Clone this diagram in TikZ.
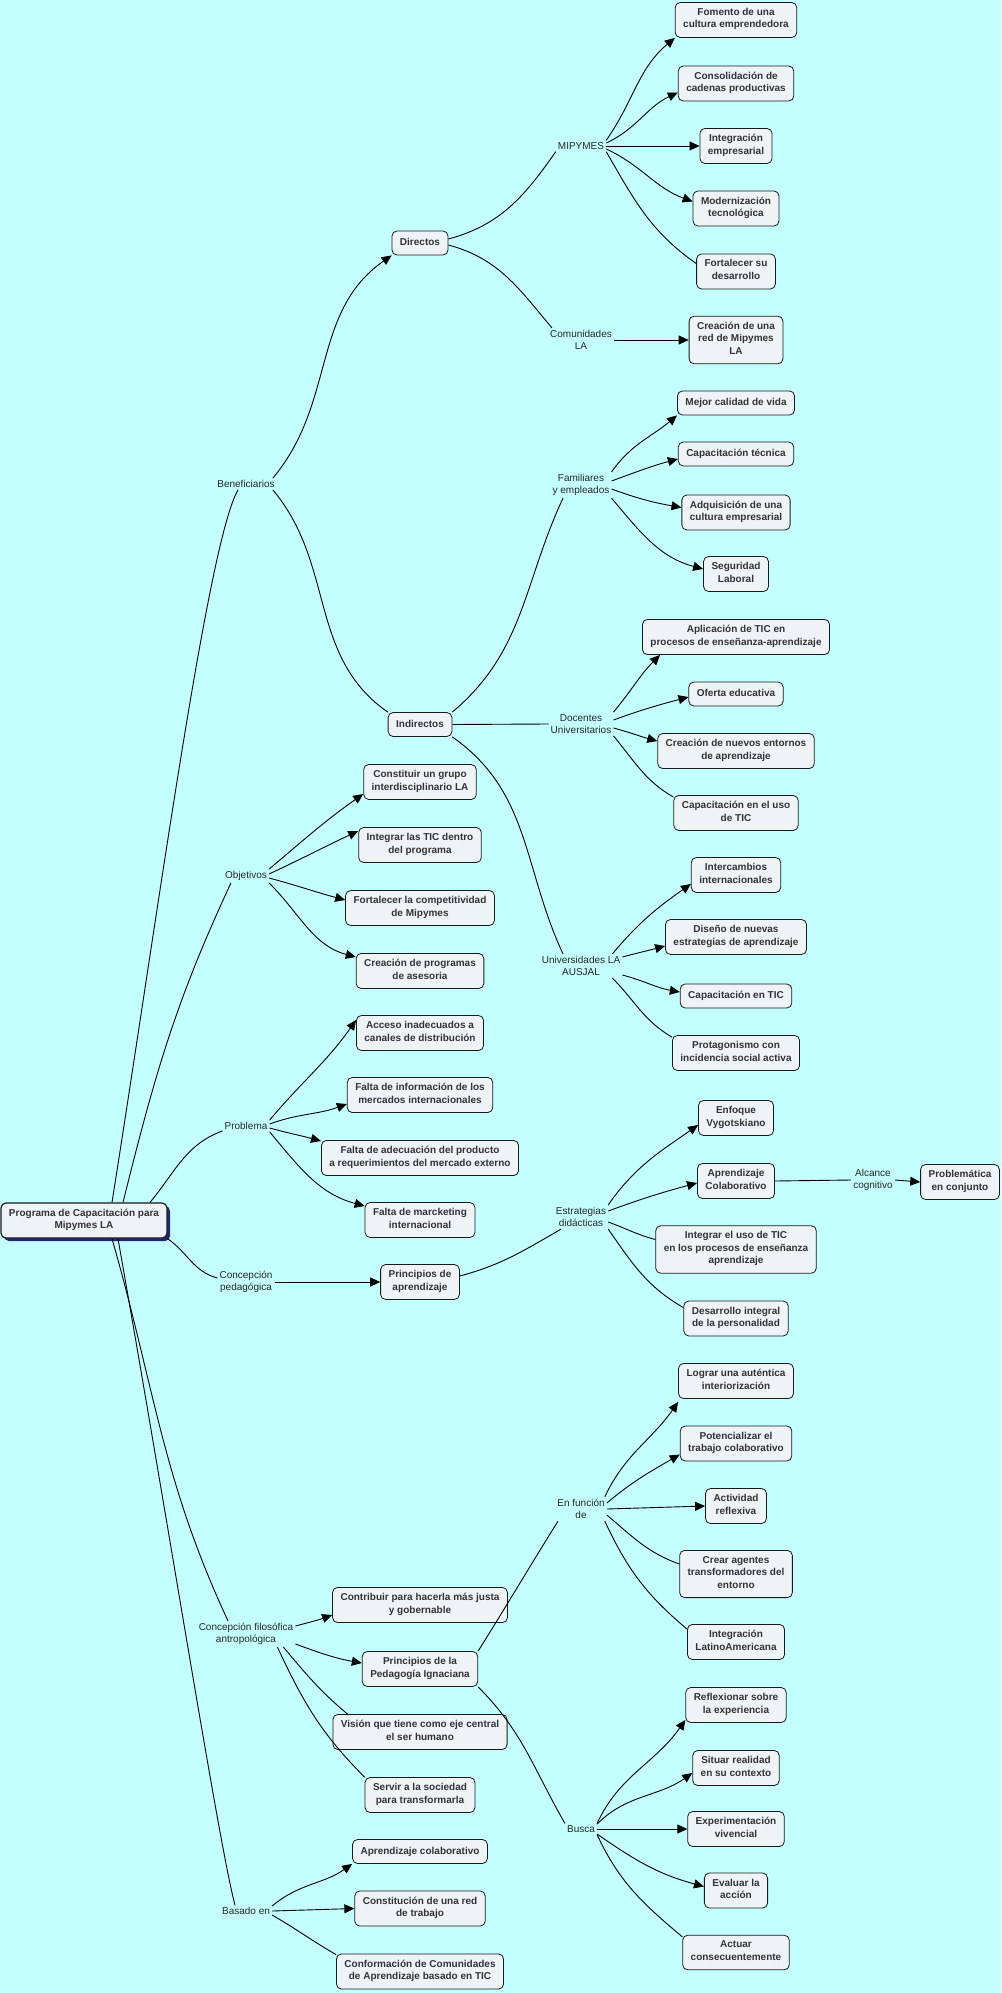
\documentclass[tikz,border=0pt]{standalone}
\usepackage{fontspec}
\setmainfont{Liberation Sans}
\usetikzlibrary{arrows.meta,shadows}

\definecolor{fondo}{RGB}{196,255,255}
\definecolor{caja}{RGB}{238,243,245}
\definecolor{texto}{RGB}{51,51,51}
\definecolor{sombra}{RGB}{36,36,122}

\tikzset{
  concepto/.style={draw=black!90, fill=caja, rounded corners=5pt, line width=0.8pt,
    text=texto, font=\bfseries\fontsize{10}{12.5}\selectfont, align=center,
    inner xsep=8pt, inner ysep=5.75pt,
    execute at begin node=\strut, execute at end node=\strut},
  enlace/.style={text=black!85, font=\fontsize{10}{12.5}\selectfont, align=center, inner sep=2pt},
  linea/.style={line width=0.9pt, draw=black},
  flecha/.style={linea, -{Triangle[length=10pt,width=9pt]}},
}

\begin{document}
\begin{tikzpicture}[x=1pt, y=1pt]

 \fill[fondo] (0,0) rectangle (1001,-1993);
 \useasboundingbox (0,0) rectangle (1001,-1993);

 %root
 \node[concepto, line width=1.2pt, drop shadow={shadow xshift=3pt, shadow yshift=-3pt, fill=sombra, opacity=1}]
   (raiz) at (84,-1220.5) {Programa de Capacitación para\\Mipymes LA};

 %level 1 (links)
 \foreach \nom/\yy/\txt in {benef/484/Beneficiarios, obj/876/Objetivos, prob/1126/Problema,
     cped/1282/{Concepción\\pedagógica}, cfil/1634/{Concepción filosófica\\antropológica},
     bas/1911/{Basado en}} {
   \node[enlace] (\nom) at (246,-\yy) {\txt};
 }

 %level 2 (concepts)
 \foreach \nom/\yy/\txt in {dir/243/Directos, ind/724.5/Indirectos,
     cons/782/{Constituir un grupo\\interdisciplinario LA},
     itic/845/{Integrar las TIC dentro\\del programa},
     fcom/908/{Fortalecer la competitividad\\de Mipymes},
     cprog/971/{Creación de programas\\de asesoria},
     acc/1033/{Acceso inadecuados a\\canales de distribución},
     finf/1095/{Falta de información de los\\mercados internacionales},
     fade/1158/{Falta de adecuación del producto\\a requerimientos del mercado externo},
     mkt/1220/{Falta de marcketing\\internacional},
     papr/1282/{Principios de\\aprendizaje},
     contr/1605/{Contribuir para hacerla más justa\\y gobernable},
     pign/1669/{Principios de la\\Pedagogía Ignaciana},
     vis/1732/{Visión que tiene como eje central\\el ser humano},
     serv/1795/{Servir a la sociedad\\para transformarla},
     apcol/1851.5/{Aprendizaje colaborativo},
     cred2/1908.5/{Constitución de una red\\de trabajo},
     conf/1971.5/{Conformación de Comunidades\\de Aprendizaje basado en TIC}} {
   \node[concepto] (\nom) at (420,-\yy) {\txt};
 }

 %level 3 (links)
 \foreach \nom/\yy/\txt in {mip/146/MIPYMES, com/340/{Comunidades\\LA},
     fam/485/{Familiares\\y empleados}, doc/724/{Docentes\\Universitarios},
     uni/966/{Universidades LA\\AUSJAL}, est/1217/{Estrategias\\didácticas},
     efun/1509/{En función\\de}, busca/1829/Busca} {
   \node[enlace] (\nom) at (581,-\yy) {\txt};
 }

 %level 4 (concepts)
 \foreach \nom/\yy/\txt in {fom/20/{Fomento de una\\cultura emprendedora},
     con/83.5/{Consolidación de\\cadenas productivas},
     int/146/{Integración\\empresarial},
     mod/208.5/{Modernización\\tecnológica},
     fsd/271.5/{Fortalecer su\\desarrollo},
     cred/340/{Creación de una\\red de Mipymes\\LA},
     mej/403/{Mejor calidad de vida},
     cap/454/{Capacitación técnica},
     adq/512.5/{Adquisición de una\\cultura empresarial},
     seg/574/{Seguridad\\Laboral},
     apl/637/{Aplicación de TIC en\\procesos de enseñanza-aprendizaje},
     ofe/694/{Oferta educativa},
     cre/751/{Creación de nuevos entornos\\de aprendizaje},
     cuso/813/{Capacitación en el uso\\de TIC},
     inter/875/{Intercambios\\internacionales},
     dis/937/{Diseño de nuevas\\estrategias de aprendizaje},
     ctic/996/{Capacitación en TIC},
     prot/1053/{Protagonismo con\\incidencia social activa},
     enf/1118/{Enfoque\\Vygotskiano},
     acol/1181/{Aprendizaje\\Colaborativo},
     iuso/1249.5/{Integrar el uso de TIC\\en los procesos de enseñanza\\aprendizaje},
     des/1318.5/{Desarrollo integral\\de la personalidad},
     lograr/1381/{Lograr una auténtica\\interiorización},
     pot/1443.5/{Potencializar el\\trabajo colaborativo},
     act/1506/{Actividad\\reflexiva},
     crear/1574/{Crear agentes\\transformadores del\\entorno},
     ila/1642/{Integración\\LatinoAmericana},
     refl/1705/{Reflexionar sobre\\la experiencia},
     sit/1768/{Situar realidad\\en su contexto},
     exp/1829/{Experimentación\\vivencial},
     eval/1890.5/{Evaluar la\\acción},
     actu/1952.5/{Actuar\\consecuentemente}} {
   \node[concepto] (\nom) at (736,-\yy) {\txt};
 }

 %far right
 \node[enlace] (alc) at (873,-1180) {Alcance\\cognitivo};
 \node[concepto] (pconj) at (960,-1182) {Problemática\\en conjunto};

 %root lines
 \draw[linea] ([xshift=28pt]raiz.north) to[out=81, in=240, out distance=300pt, in distance=60pt] ([xshift=-8pt]benef.south);
 \draw[linea] ([xshift=39pt]raiz.north) to[out=76, in=245] ([xshift=-15pt]obj.south);
 \draw[linea] ([xshift=66pt]raiz.north) to[out=50, in=200] ([yshift=-5pt]prob.west);
 \draw[linea] (raiz.south east) to[out=-35, in=165] ([yshift=4pt]cped.west);
 \draw[linea] ([xshift=28pt]raiz.south) to[out=-74, in=115] ([xshift=-18pt]cfil.north);
 \draw[linea] ([xshift=34pt]raiz.south) to[out=-80, in=105, out distance=300pt, in distance=60pt] ([xshift=-11pt]bas.north);

 %Beneficiarios
 \draw[flecha] ([xshift=-4pt]benef.north east) to[out=50, in=215] (dir.south west);
 \draw[linea] ([xshift=-4pt]benef.south east) to[out=-50, in=145] (ind.north west);
 \draw[linea] ([yshift=4pt]dir.east) to[out=15, in=235] (mip.south west);
 \draw[linea] ([yshift=-2pt]dir.east) to[out=-15, in=130] ([xshift=4pt]com.north west);
 \draw[linea] (ind.north east) to[out=40, in=245] ([xshift=-18pt]fam.south);
 \draw[linea] (ind.east) -- (doc.west);
 \draw[linea] (ind.south east) to[out=-35, in=115] ([xshift=-18pt]uni.north);

 %MIPYMES
 \draw[flecha] (mip.north east) to[out=55, in=220] (fom.south west);
 \draw[flecha] ([yshift=3pt]mip.east) to[out=25, in=205] ([yshift=-9pt]con.west);
 \draw[flecha] (mip.east) -- (int.west);
 \draw[flecha] ([yshift=-3pt]mip.east) to[out=-25, in=160] ([yshift=7pt]mod.west);
 \draw[linea] (mip.south east) to[out=-60, in=145] ([yshift=8pt]fsd.west);
 \draw[flecha] (com.east) -- (cred.west);

 %Familiares
 \draw[flecha] (fam.north east) to[out=55, in=220] (mej.south west);
 \draw[flecha] ([yshift=4pt]fam.east) to[out=20, in=195] ([yshift=-5pt]cap.west);
 \draw[flecha] ([yshift=-4pt]fam.east) to[out=-20, in=170] ([yshift=5pt]adq.west);
 \draw[flecha] (fam.south east) to[out=-50, in=165] ([yshift=5pt]seg.west);

 %Docentes
 \draw[flecha] (doc.north east) to[out=50, in=225] ([xshift=18pt]apl.south west);
 \draw[flecha] ([yshift=4pt]doc.east) to[out=20, in=195] ([yshift=-3pt]ofe.west);
 \draw[flecha] ([yshift=-4pt]doc.east) to[out=-15, in=165] ([yshift=10pt]cre.west);
 \draw[linea] (doc.south east) to[out=-50, in=150] ([yshift=-2pt]cuso.north west);

 %Universidades
 \draw[flecha] ([xshift=-10pt]uni.north east) to[out=50, in=215] ([yshift=-9pt]inter.west);
 \draw[flecha] ([yshift=9pt]uni.east) to[out=15, in=195] ([yshift=-9pt]dis.west);
 \draw[flecha] ([yshift=-9pt]uni.east) to[out=-15, in=170] ([yshift=4pt]ctic.west);
 \draw[linea] ([xshift=-10pt]uni.south east) to[out=-45, in=150] ([yshift=-2pt]prot.north west);

 %Objetivos
 \draw[flecha] (obj.north east) to[out=40, in=215] ([yshift=-12pt]cons.west);
 \draw[flecha] ([yshift=2pt]obj.east) to[out=25, in=205] ([yshift=14pt]itic.west);
 \draw[flecha] ([yshift=-2pt]obj.east) to[out=-15, in=165] ([yshift=8pt]fcom.west);
 \draw[flecha] (obj.south east) to[out=-45, in=165] ([yshift=14pt]cprog.west);

 %Problema
 \draw[flecha] (prob.north east) to[out=50, in=235] ([yshift=13pt]acc.west);
 \draw[flecha] ([yshift=2pt]prob.east) to[out=20, in=200] ([yshift=-9pt]finf.west);
 \draw[flecha] ([yshift=-2pt]prob.east) to[out=-15, in=165] ([yshift=17pt]fade.west);
 \draw[flecha] (prob.south east) to[out=-50, in=165] ([yshift=14pt]mkt.west);

 %Concepcion pedagogica
 \draw[flecha] (cped.east) -- (papr.west);
 \draw[linea] ([yshift=6pt]papr.east) to[out=15, in=210] ([xshift=-20pt]est.south);
 \draw[flecha] (est.north east) to[out=55, in=215] ([yshift=-7pt]enf.west);
 \draw[flecha] ([yshift=6pt]est.east) to[out=20, in=195] ([yshift=-2pt]acol.west);
 \draw[linea] ([yshift=-5pt]est.east) to[out=-20, in=165] ([yshift=10pt]iuso.west);
 \draw[linea] (est.south east) to[out=-55, in=150] ([yshift=-7pt]des.north west);
 \draw[linea] (acol.east) -- (alc.west);
 \draw[flecha] (alc.east) -- (pconj.west);

 %Concepcion filosofica
 \draw[flecha] ([yshift=8pt]cfil.east) to[out=15, in=200] ([yshift=-10pt]contr.west);
 \draw[flecha] ([yshift=-10pt]cfil.east) to[out=-20, in=170] ([yshift=6pt]pign.west);
 \draw[linea] ([xshift=-12pt]cfil.south east) to[out=-50, in=140] ([xshift=15pt]vis.north west);
 \draw[linea] ([xshift=-18pt]cfil.south east) to[out=-65, in=135] (serv.north west);
 \draw[linea] (pign.north east) to[out=58, in=238] ([xshift=-23pt]efun.south);
 \draw[linea] (pign.south east) to[out=-45, in=120] (busca.north west);

 %En funcion de
 \draw[flecha] ([xshift=-2pt]efun.north east) to[out=65, in=235] ([yshift=-3pt]lograr.south west);
 \draw[flecha] ([yshift=6pt]efun.east) to[out=40, in=210] ([yshift=-11pt]pot.west);
 \draw[flecha] (efun.east) -- (act.west);
 \draw[linea] ([yshift=-6pt]efun.east) to[out=-40, in=160] ([yshift=10pt]crear.west);
 \draw[linea] ([xshift=-2pt]efun.south east) to[out=-65, in=140] ([yshift=-5pt]ila.north west);

 %Busca
 \draw[flecha] (busca.north east) to[out=65, in=235] ([yshift=3pt]refl.south west);
 \draw[flecha] ([yshift=5pt]busca.east) to[out=45, in=215] ([yshift=-5pt]sit.west);
 \draw[flecha] (busca.east) -- (exp.west);
 \draw[flecha] ([yshift=-5pt]busca.east) to[out=-35, in=165] ([yshift=4pt]eval.west);
 \draw[linea] (busca.south east) to[out=-65, in=140] ([yshift=-2pt]actu.north west);

 %Basado en
 \draw[flecha] ([yshift=5pt]bas.east) to[out=40, in=215] (apcol.south west);
 \draw[flecha] (bas.east) -- (cred2.west);
 \draw[linea] ([yshift=-4pt]bas.east) to[out=-30, in=150] ([yshift=-1pt]conf.north west);

\end{tikzpicture}
\end{document}
